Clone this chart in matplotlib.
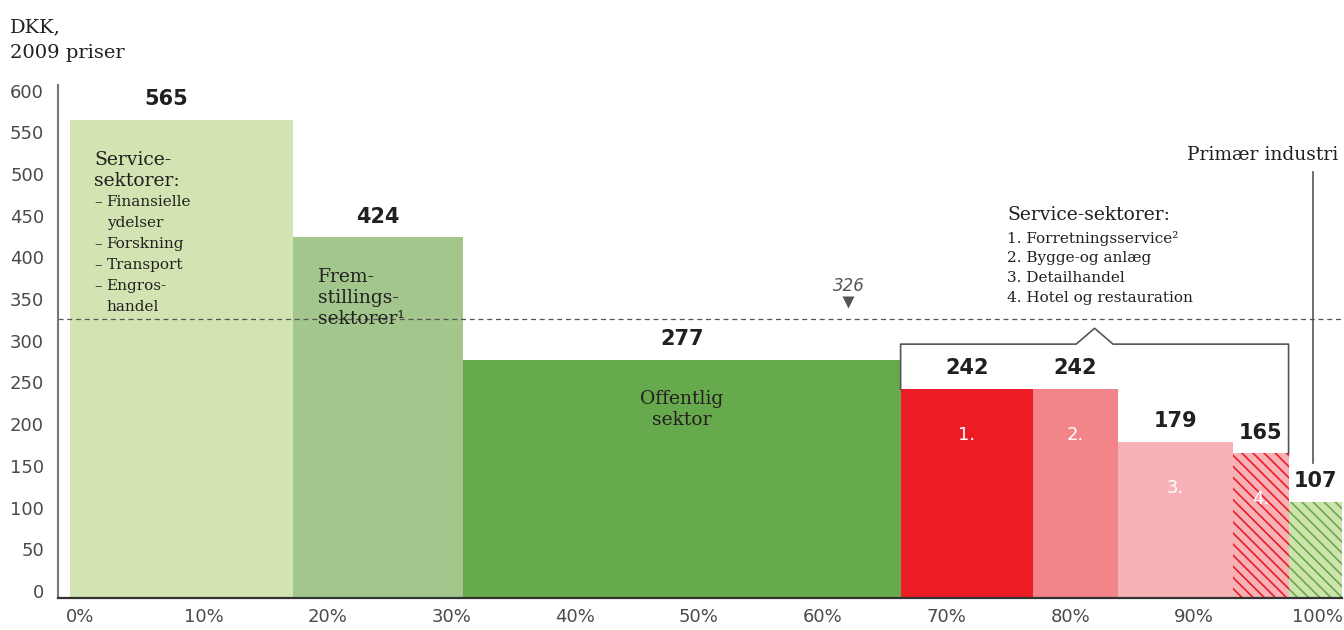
import numpy as np
import matplotlib
matplotlib.use("Agg")
import matplotlib.pyplot as plt

# --- data ---
values = [565, 424, 277, 242, 242, 179, 165, 107]
widths = [17.5, 13.4, 34.4, 10.4, 6.7, 9.0, 4.4, 4.2]   # share of employment, %
colors = ["#d1e4b1", "#a2c68b", "#67aa4d", "#ed1c24", "#f2848a", "#f6b2b6", "#f6b2b6", "#cfe3ad"]
hatch_colors = [None, None, None, None, None, None, "#ed1c24", "#67aa4d"]
inner_labels = ["", "", "", "1.", "2.", "3.", "4.", ""]
average = 326
average_pos = 61.2
y_ticks = list(range(0, 601, 50))
x_tick_labels = ["0%", "10%", "20%", "30%", "40%", "50%", "60%", "70%", "80%", "90%", "100%"]

service_head = ["Service-", "sektorer:"]
service_items = [["Finansielle", "ydelser"], ["Forskning"], ["Transport"], ["Engros-", "handel"]]
manuf_lines = ["Frem-", "stillings-", "sektorer\u00b9"]
public_lines = ["Offentlig", "sektor"]
legend_head = "Service-sektorer:"
legend_items = ["1. Forretningsservice\u00b2", "2. Bygge-og anlæg", "3. Detailhandel", "4. Hotel og restauration"]

SERIF = "DejaVu Serif"
SANS = "DejaVu Sans"
DARK = "#231f20"

plt.rcParams["hatch.linewidth"] = 1.2

fig = plt.figure(figsize=(13.44, 6.30), dpi=100)
ax = fig.add_axes([58 / 1344, 1 - 598 / 630, 1284 / 1344, 513 / 630])
ax.set_xlim(-0.94, 100)
ax.set_ylim(-8.4, 606.7)
bottom = -8.4

lefts = np.concatenate([[0], np.cumsum(widths)[:-1]])
rights = lefts + np.array(widths)
centers = lefts + np.array(widths) / 2

for i, (l, w, v) in enumerate(zip(lefts, widths, values)):
    if hatch_colors[i]:
        ax.bar(l, v - bottom, width=w, bottom=bottom, align="edge", color=colors[i],
               edgecolor=hatch_colors[i], linewidth=0, hatch="\\\\\\", zorder=2)
    else:
        ax.bar(l, v - bottom, width=w, bottom=bottom, align="edge", color=colors[i],
               linewidth=0, zorder=2)
    dx = -11 if i == 0 else 0
    ax.annotate(str(v), (centers[i], v), xytext=(dx, 15), textcoords="offset points",
                ha="center", va="center", fontsize=15, fontweight="bold", family=SANS,
                color=DARK, zorder=5)
    if inner_labels[i]:
        ax.annotate(inner_labels[i], (centers[i], v), xytext=(0, -33), textcoords="offset points",
                    ha="center", va="center", fontsize=13, family=SANS, color="white", zorder=5)

# average line
ax.axhline(average, color="#555555", lw=0.9, ls=(0, (4, 3)), zorder=3)
ax.plot([average_pos], [average + 21], marker="v", ms=9, color="#555555", mec="none", zorder=4)
ax.text(average_pos, average + 40, str(average), ha="center", va="center", fontsize=12,
        style="italic", family=SANS, color="#555555")

# axes lines
for s in ["top", "right", "bottom", "left"]:
    ax.spines[s].set_visible(False)
ax.plot([-0.94, -0.94], [bottom, 606.7], color="#777777", lw=1.5, clip_on=False, zorder=6)
ax.plot([-0.94, 100], [bottom, bottom], color="#333333", lw=1.6, clip_on=False, zorder=6)

ax.set_yticks(y_ticks)
ax.set_yticklabels([str(t) for t in y_ticks])
ax.set_xticks(np.linspace(0.8, 98.1, len(x_tick_labels)))
ax.set_xticklabels(x_tick_labels)
ax.tick_params(axis="both", length=0, labelsize=13, labelcolor="#4a4a4a")
ax.tick_params(axis="y", pad=10)
ax.tick_params(axis="x", pad=7)
for lab in ax.get_xticklabels() + ax.get_yticklabels():
    lab.set_family(SANS)

# unit label
fig.text(10 / 1344, 1 - 27 / 630, "DKK,", ha="left", va="center", fontsize=14, family=SERIF, color=DARK)
fig.text(10 / 1344, 1 - 53 / 630, "2009 priser", ha="left", va="center", fontsize=14, family=SERIF, color=DARK)

# text inside service bar
x0 = lefts[0] + 1.9
y0 = 517
for k, line in enumerate(service_head):
    ax.annotate(line, (x0, y0), xytext=(0, -15.1 * k), textcoords="offset points",
                ha="left", va="center", fontsize=13.5, family=SERIF, color=DARK)
row = 0
for item in service_items:
    for j, line in enumerate(item):
        yoff = -15.1 * (2 + row)
        if j == 0:
            ax.annotate("\u2013", (x0, y0), xytext=(0, yoff), textcoords="offset points",
                        ha="left", va="center", fontsize=11, family=SERIF, color=DARK)
        ax.annotate(line, (x0, y0), xytext=(9, yoff), textcoords="offset points",
                    ha="left", va="center", fontsize=11, family=SERIF, color=DARK)
        row += 1

# manufacturing text
for k, line in enumerate(manuf_lines):
    ax.annotate(line, (lefts[1] + 2.0, 376.5), xytext=(0, -15.1 * k), textcoords="offset points",
                ha="left", va="center", fontsize=13.5, family=SERIF, color=DARK)

# public sector text
for k, line in enumerate(public_lines):
    ax.annotate(line, (centers[2], 230), xytext=(0, -15.1 * k), textcoords="offset points",
                ha="center", va="center", fontsize=13.5, family=SERIF, color=DARK)

# legend text for service sectors
ax.text(73.7, 451, legend_head, ha="left", va="center", fontsize=13.5, family=SERIF, color=DARK)
for k, line in enumerate(legend_items):
    ax.annotate(line, (73.7, 423), xytext=(0, -14.4 * k), textcoords="offset points",
                ha="left", va="center", fontsize=11, family=SERIF, color=DARK)

# bracket over service bars 1-4
bl, br = lefts[3], rights[6]
bm = (bl + br) / 2
by = 296
bx = [bl, bl, bm - 1.45, bm, bm + 1.45, br, br]
byy = [values[3], by, by, by + 19, by, by, values[6]]
ax.plot(bx, byy, color="#555555", lw=1.2, zorder=4)

# primary industry pointer
ax.plot([centers[7] - 0.2, centers[7] - 0.2], [502, 153], color="#555555", lw=1.2, zorder=4)
ax.text(99.7, 523, "Primær industri", ha="right", va="center", fontsize=13.5, family=SERIF,
        color=DARK)

fig.savefig("out.png", dpi=100)
